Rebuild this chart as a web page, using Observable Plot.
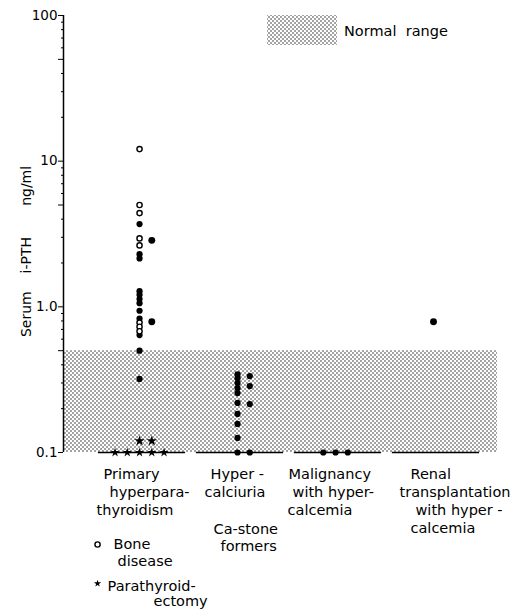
<!DOCTYPE html>
<html><head><meta charset="utf-8">
<script src="https://cdn.jsdelivr.net/npm/d3@7"></script>
<script src="https://cdn.jsdelivr.net/npm/@observablehq/plot@0.6"></script>
<style>
html,body{margin:0;padding:0;background:#fff;overflow:hidden;}
#chart svg{display:block}
</style></head><body>
<svg width="0" height="0" style="position:absolute">
 <defs><pattern id="stipple" width="4" height="4" patternUnits="userSpaceOnUse">
  <circle cx="1" cy="1" r="0.7" fill="#000"/><circle cx="3" cy="3" r="0.7" fill="#000"/>
 </pattern></defs></svg>
<div id="chart"></div>
<script>
// ---------- data ----------
const groups = ["Primary hyperparathyroidism", "Hypercalciuria", "Malignancy with hypercalcemia", "Renal transplantation with hypercalcemia"];
const categoryLines = [
  ["Primary", "hyperpara-", "thyroidism"],
  ["Hyper -", "calciuria"],
  ["Malignancy", "with hyper-", "calcemia"],
  ["Renal", "transplantation", "with hyper -", "calcemia"]
];
const subLabel = ["Ca-stone", "formers"];
const legendKinds = ["bone", "ptx"];
const legendLabels = [["Bone", "disease"], ["Parathyroid-", "ectomy"]];
const normalRange = [0.1, 0.5];
const normalLabel = "Normal\u00a0\u00a0range";
const yTicks = [0.1, 0.5, 1, 5, 10, 50, 100];
const yTickLabels = ["0.1", "0.5", "1.0", "5", "10", "50", "100"];
const minorTicks = [0.2,0.3,0.4,0.6,0.7,0.8,0.9,2,3,4,6,7,8,9,20,30,40,60,70,80,90];
const yLabel = "Serum\u00a0\u00a0\u00a0\u00a0i-PTH\u00a0\u00a0\u00a0\u00a0\u00a0\u00a0\u00a0ng/ml";

// [value ng/ml, column within group, kind]
const primaryPoints = [
  [12.1,0,"bone"],[5.0,0,"bone"],[4.4,0,"bone"],[3.7,0,"other"],[2.95,0,"bone"],[2.64,0,"bone"],
  [2.3,0,"other"],[2.15,0,"other"],[2.86,1,"other"],
  [1.28,0,"other"],[1.21,0,"other"],[1.13,0,"other"],[1.06,0,"other"],[0.94,0,"other"],
  [0.83,0,"other"],[0.78,0,"bone"],[0.73,0,"bone"],[0.68,0,"bone"],[0.64,0,"other"],
  [0.79,1,"other"],[0.5,0,"other"],[0.32,0,"other"],
  [0.12,0,"ptx"],[0.12,1,"ptx"],
  [0.1,-2,"ptx"],[0.1,-1,"ptx"],[0.1,0,"ptx"],[0.1,1,"ptx"],[0.1,2,"ptx"]
];
const hyperPoints = [
  [0.344,0,"other"],[0.324,0,"other"],[0.30,0,"other"],[0.277,0,"other"],[0.256,0,"other"],
  [0.219,0,"other"],[0.184,0,"other"],[0.157,0,"other"],[0.126,0,"other"],[0.1,0,"other"],
  [0.335,1,"other"],[0.286,1,"other"],[0.215,1,"other"],[0.1,1,"other"]
];
const malignancyPoints = [[0.1,-1,"other"],[0.1,0,"other"],[0.1,1,"other"]];
const renalPoints = [[0.79,0,"other"]];

// ---------- layout ----------
const W = 520, H = 611;
const xDomain = [-0.776, 3.653];
const COL = 0.125;
const labelOffsets = [
  [[-36,26],[-30,44],[-43,62]],
  [[-27,26],[-33,44]],
  [[-47,26],[-43,44],[-48,62]],
  [[-23,26],[-34,44],[-18,62],[-23,80]]
];
const subOffsets = [[-24,81],[-17,98]];
const legendTextOffsets = [[[-26,96],[-22,113]], [[-32,138],[14,153]]];
const legendMarkOffsets = [[-42,92],[-42,131]];

const rows = [primaryPoints, hyperPoints, malignancyPoints, renalPoints]
  .flatMap((pts, g) => pts.map(([v, col, kind]) => ({g, v, col, kind})));
const X = d => d.g + d.col * COL;
const big = d => (d.g === 0 && d.col === 1) || d.g === 3;

const textMarks = [];
const addText = (t, g, dx, dy) => textMarks.push(Plot.text([t], {x: () => g, frameAnchor: "bottom", dx, dy,
  text: d => d, textAnchor: "start", lineAnchor: "bottom", fontSize: 14.5}));
categoryLines.forEach((lines, g) => lines.forEach((t, i) => addText(t, g, ...labelOffsets[g][i])));
subLabel.forEach((t, i) => addText(t, 1, ...subOffsets[i]));
legendLabels.forEach((lines, k) => lines.forEach((t, i) => addText(t, 0, ...legendTextOffsets[k][i])));

const chart = Plot.plot({
  width: W, height: H,
  marginLeft: 63, marginRight: 23, marginTop: 15, marginBottom: 159,
  x: {type: "linear", domain: xDomain, axis: null},
  y: {type: "log", domain: [0.1, 100], axis: null},
  style: {fontFamily: "DejaVu Sans", fontSize: "13px", color: "black", background: "white"},
  marks: [
    Plot.rect([normalRange], {x1: () => xDomain[0], x2: () => xDomain[1], y1: d => d[0], y2: d => d[1], fill: "url(#stipple)"}),
    Plot.ruleX([xDomain[0]], {y1: 0.1, y2: 100, stroke: "black", strokeWidth: 1.5}),
    Plot.axisY({ticks: minorTicks, tickSize: 2, tickFormat: () => "", label: null}),
    Plot.axisY({ticks: yTicks, tickSize: 5, tickPadding: 1, fontSize: 13.5, label: null,
      tickFormat: d => yTickLabels[yTicks.indexOf(d)]}),
    Plot.ruleY(groups.map((_, i) => i), {y: () => 0.1, x1: i => i - 0.42, x2: i => i + 0.47, stroke: "black", strokeWidth: 1.5}),
    Plot.dot(rows.filter(d => d.kind === "other"), {x: X, y: "v", r: d => big(d) ? 3.3 : 2.7, fill: "black"}),
    Plot.dot(rows.filter(d => d.kind === "bone"), {x: X, y: "v", r: 2.6, fill: "white", stroke: "black", strokeWidth: 1.4}),
    Plot.dot(rows.filter(d => d.kind === "ptx"), {x: X, y: "v", r: d => d.v > 0.1 ? 3 : 2.3, symbol: "star", fill: "black"}),
    Plot.dot([legendKinds[0]], {x: () => 0, frameAnchor: "bottom", dx: legendMarkOffsets[0][0], dy: legendMarkOffsets[0][1],
      r: 2.6, fill: "white", stroke: "black", strokeWidth: 1.4}),
    Plot.dot([legendKinds[1]], {x: () => 0, frameAnchor: "bottom", dx: legendMarkOffsets[1][0], dy: legendMarkOffsets[1][1],
      r: 2.3, symbol: "star", fill: "black"}),
    Plot.text([yLabel], {frameAnchor: "left", y: () => 2.4, dx: -37, rotate: -90, text: d => d,
      textAnchor: "middle", fontSize: 14}),
    ...textMarks
  ]
});

// "Normal range" key (top)
const s = d3.select(chart);
s.append("rect").attr("x", 267).attr("y", 15).attr("width", 70).attr("height", 30).attr("fill", "url(#stipple)");
s.append("text").attr("x", 344).attr("y", 35.5).attr("font-size", 14.5).attr("text-anchor", "start")
  .attr("fill", "black").text(normalLabel);

document.getElementById("chart").appendChild(chart);
</script>
</body></html>
